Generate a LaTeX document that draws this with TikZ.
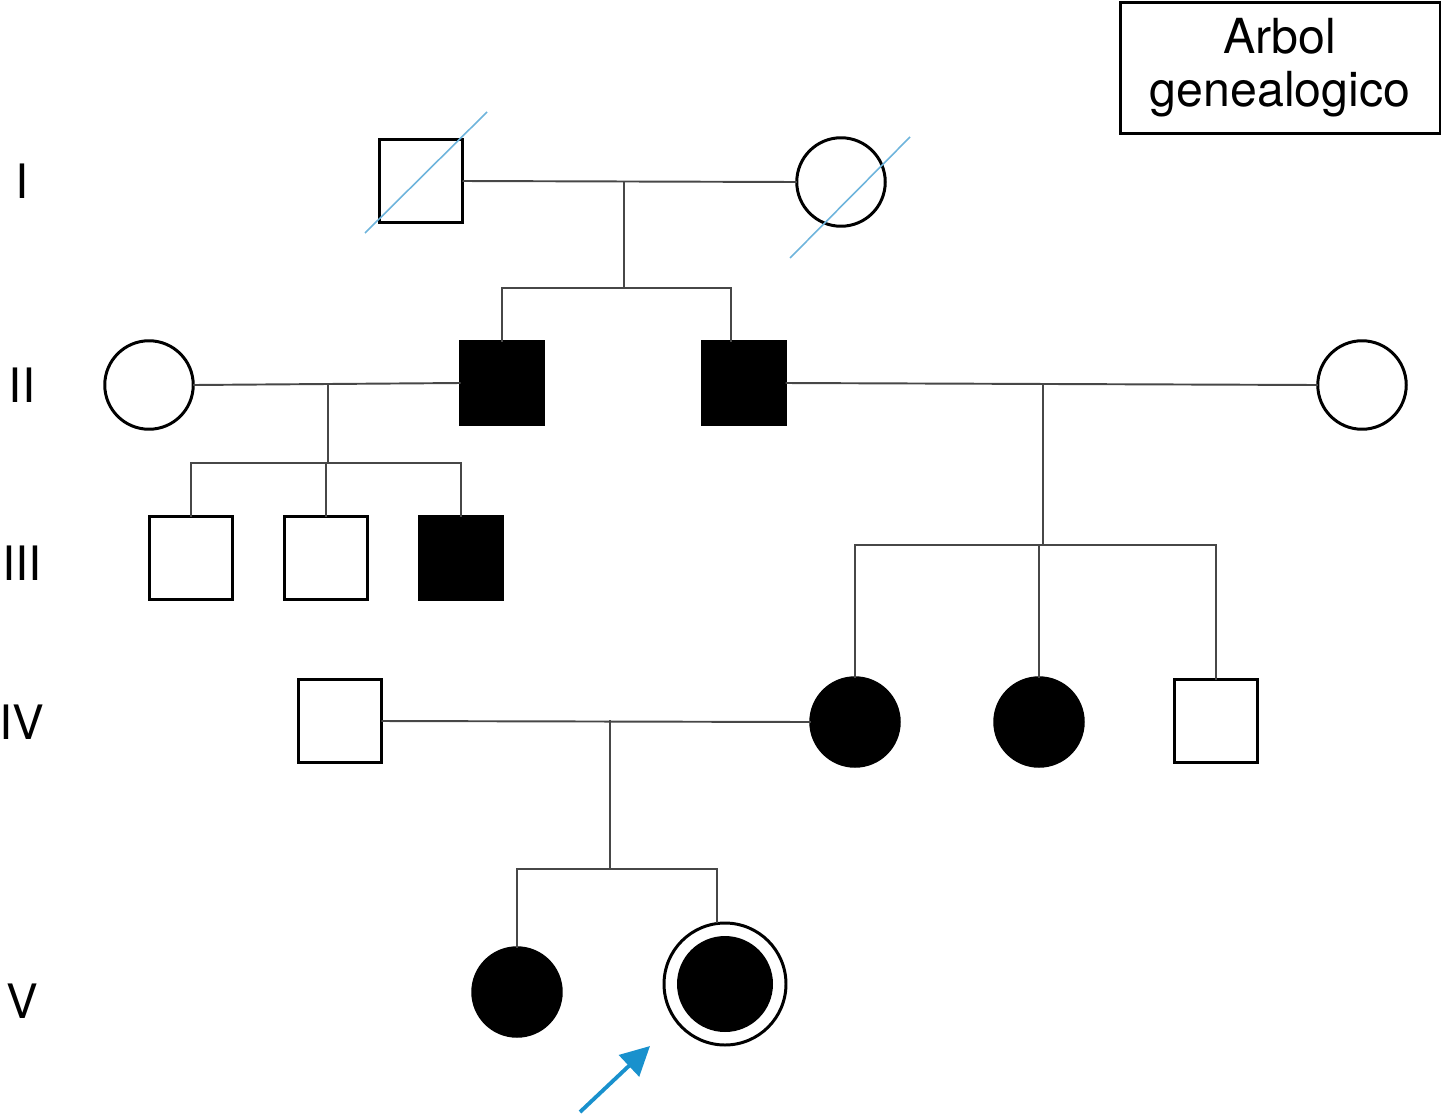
\documentclass[tikz,border=0pt]{standalone}
\usepackage{fontspec}
\setmainfont{TeX Gyre Heros}
\usetikzlibrary{arrows.meta, calc}
\definecolor{slashblue}{RGB}{110,180,220}
\definecolor{arrowblue}{RGB}{25,145,205}

\begin{document}
\begin{tikzpicture}[x=0.02cm, y=-0.02cm,
  male/.style={rectangle, draw=black, line width=1.7pt, minimum size=1.66cm,
               inner sep=0pt, outer sep=0pt},
  female/.style={circle, draw=black, line width=1.7pt, minimum size=1.77cm,
                 inner sep=0pt, outer sep=0pt},
  affected/.style={fill=black},
  link/.style={line width=1.1pt, draw=black!72},
  deceased/.style={line width=0.9pt, slashblue},
  genlabel/.style={font=\fontsize{27}{31}\selectfont, inner sep=0pt},
  pointer/.style={-{Triangle[length=0.58cm, width=0.58cm]}, line width=2.2pt, arrowblue}
]
\useasboundingbox (0,0) rectangle (1442,1116);

% generation labels
\foreach \g/\y in {I/181, II/385, III/563, IV/722, V/1001}
  \node[genlabel] (lab\g) at (22,\y) {\g};

% title box
\node[draw, line width=1.7pt, minimum width=6.4cm, minimum height=2.62cm,
      align=center, font=\fontsize{27.5}{30}\selectfont] (title) at (1280,68)
  {Arbol\\genealogico};

% generation I
\node[male] (I1) at (421,181) {};
\node[female] (I2) at (841,182) {};
\draw[deceased] ($(I1.center)+(-56,52)$) -- ($(I1.center)+(66,-69)$);
\draw[deceased] ($(I2.center)+(-51,76)$) -- ($(I2.center)+(69,-45)$);

% generation II
\node[female] (II1) at (149,385) {};
\node[male, affected] (II2) at (502,383) {};
\node[male, affected] (II3) at (744,383) {};
\node[female] (II4) at (1362,385) {};

% generation III
\node[male] (III1) at (191,558) {};
\node[male] (III2) at (326,558) {};
\node[male, affected] (III3) at (461,558) {};

% generation IV
\node[male] (IV1) at (340,721) {};
\node[female, affected] (IV2) at (855,722) {};
\node[female, affected] (IV3) at (1039,722) {};
\node[male] (IV4) at (1216,721) {};

% generation V
\node[female, affected] (V1) at (517,992) {};
\node[circle, draw=black, line width=1.7pt, minimum size=2.44cm,
      inner sep=0pt, outer sep=0pt] (V2) at (725,984) {};
\node[circle, fill=black, minimum size=1.92cm, inner sep=0pt] (V2in) at (V2.center) {};

% couples and descent
\coordinate (m1) at (624,181);
\coordinate (s1) at (624,288);
\draw[link] (I1.east) -- (I2.west);
\draw[link] (m1) -- (s1);
\draw[link] (II2.north) |- (s1) -| ($(II3.north)+(-13,0)$);

\coordinate (m2) at (328,383);
\coordinate (s2) at (328,463);
\draw[link] (II1.east) -- (II2.west);
\draw[link] (m2) -- (s2);
\draw[link] (III1.north) |- (s2) -| (III3.north);
\draw[link] (III2.north) -- (III2.north |- s2);

\coordinate (m3) at (1043,383);
\coordinate (s3) at (1043,545);
\draw[link] (II3.east) -- (II4.west);
\draw[link] (m3) -- (s3);
\draw[link] (IV2.north) |- (s3) -| (IV4.north);
\draw[link] (IV3.north) -- (IV3.north |- s3);

\coordinate (m4) at (610,720);
\coordinate (s4) at (610,869);
\draw[link] (IV1.east) -- (IV2.west);
\draw[link] (m4) -- (s4);
\draw[link] (V1.north) |- (s4) -| ($(V2.north)+(-8,0)$);

% proband
\coordinate (ptail) at (580,1112);
\coordinate (ptip) at (650,1046);
\draw[pointer] (ptail) -- (ptip);

\end{tikzpicture}
\end{document}
